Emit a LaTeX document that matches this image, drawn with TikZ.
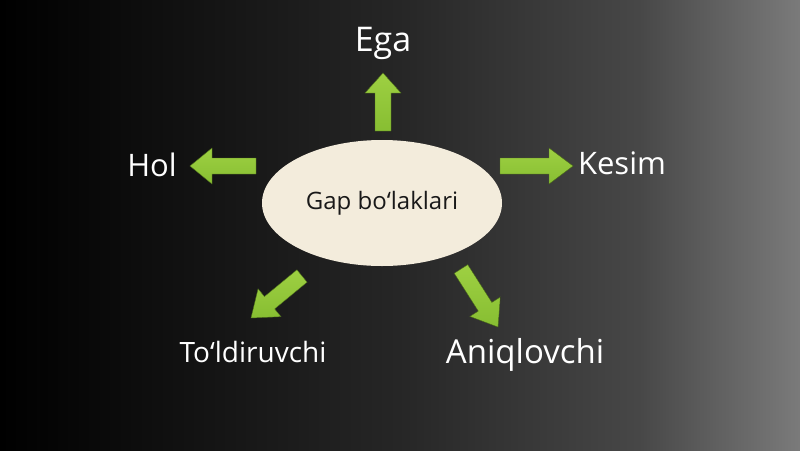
\documentclass[tikz,border=0pt]{standalone}
\usepackage{fontspec}
\setmainfont{Open Sans}
\usetikzlibrary{calc,shapes.geometric}
\definecolor{argreen}{RGB}{135,190,50}
\definecolor{argreenlt}{RGB}{158,208,66}
\definecolor{ovalfill}{RGB}{243,236,220}
\pgfdeclarehorizontalshading{bgshade}{100bp}{color(0bp)=(black); color(25bp)=(black); color(35bp)=(black!94); color(50bp)=(black!85); color(65bp)=(black!72); color(75bp)=(black!52); color(100bp)=(black!52)}
\newcommand\garrow[3]{%
  \fill[arrowstyle]
    ($(#1)!8pt!90:(#2)$) -- ($($(#2)!#3!(#1)$)!8pt!90:(#2)$) --
    ($($(#2)!#3!(#1)$)!18pt!90:(#2)$) -- (#2) --
    ($($(#2)!#3!(#1)$)!18pt!-90:(#2)$) -- ($($(#2)!#3!(#1)$)!8pt!-90:(#2)$) --
    ($(#1)!8pt!-90:(#2)$) -- cycle;}
\begin{document}
\begin{tikzpicture}[x=1pt,y=-1pt,
  arrowstyle/.style={top color=argreenlt,bottom color=argreen,draw=argreen!60!black,line width=0.4pt},
  lbl/.style={text=white,inner sep=0pt,anchor=center},
  oval/.style={ellipse,fill=ovalfill,minimum width=240pt,minimum height=126pt,inner sep=0pt}]
\useasboundingbox (0,0) rectangle (800,450);
\shade[shading=bgshade] (0,0) rectangle (800,450);
% central oval
\node[oval] (center) at (382,203) {\fontsize{24}{28}\selectfont\color[RGB]{25,25,25}Gap bo‘laklari};
% arrow end points
\coordinate (uT) at (383,131); \coordinate (uP) at (383,73);
\coordinate (lT) at (256,166); \coordinate (lP) at (190,166);
\coordinate (rT) at (500,166); \coordinate (rP) at (573,166);
\coordinate (dlT) at (302,276); \coordinate (dlP) at (251,318);
\coordinate (drT) at (461,269); \coordinate (drP) at (498,327);
\garrow{uT}{uP}{20pt}
\garrow{lT}{lP}{22pt}
\garrow{rT}{rP}{24pt}
\garrow{dlT}{dlP}{24pt}
\garrow{drT}{drP}{24pt}
% labels
\node[lbl] (ega) at (383,43) {\fontsize{34}{40}\selectfont Ega};
\node[lbl] (hol) at (152,165) {\fontsize{31}{36}\selectfont Hol};
\node[lbl] (kesim) at (622,163) {\fontsize{31}{36}\selectfont Kesim};
\node[lbl] (told) at (253,352) {\fontsize{28}{33}\selectfont To‘ldiruvchi};
\node[lbl] (aniq) at (525,355) {\fontsize{33}{38}\selectfont Aniqlovchi};
\end{tikzpicture}
\end{document}
